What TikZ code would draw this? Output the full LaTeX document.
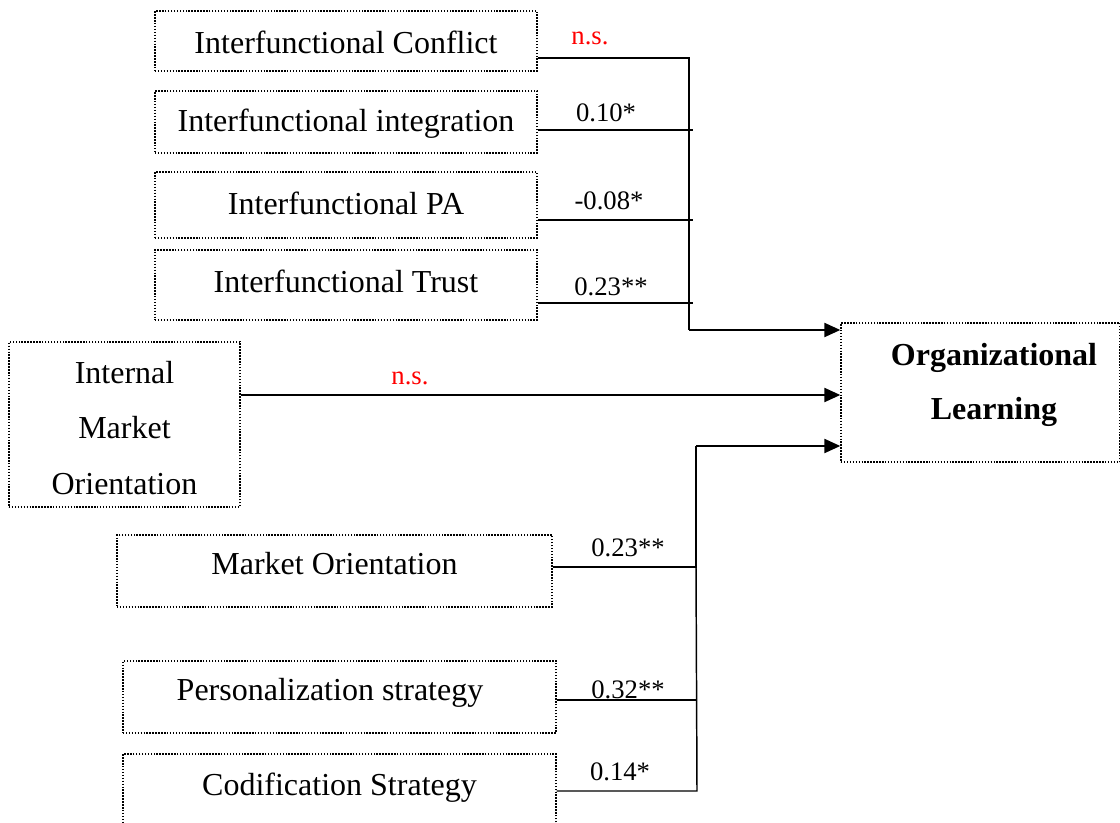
\documentclass[tikz,border=0pt]{standalone}
\usepackage{fontspec}
\setmainfont{Liberation Serif}
\usetikzlibrary{arrows.meta}
\begin{document}
\begin{tikzpicture}[x=0.75pt,y=-0.75pt,
  box/.style={draw, line width=1pt, dash pattern=on 1.1pt off 1.1pt, rectangle, inner sep=0pt},
  boxtext/.style={font=\fontsize{24}{41.6}\selectfont, inner sep=0pt, align=center},
  coef/.style={font=\fontsize{20}{24}\selectfont, inner sep=0pt},
  ns/.style={coef, text=red},
  thick path/.style={line width=1.6pt},
  thin path/.style={line width=1.1pt},
  arr/.style={thick path, -{Triangle[length=12pt,width=10.5pt]}}]
\useasboundingbox (0,0) rectangle (1120,823);
\clip (0,0) rectangle (1120,823);

% predictor and outcome boxes
\node[box, minimum width=382*0.75pt, minimum height=60*0.75pt] (conf) at (346,41) {};
\node[box, minimum width=382*0.75pt, minimum height=62*0.75pt] (integ) at (346,122) {};
\node[box, minimum width=382*0.75pt, minimum height=66*0.75pt] (pa) at (346,205) {};
\node[box, minimum width=382*0.75pt, minimum height=70*0.75pt] (trust) at (346,285) {};
\node[box, minimum width=231*0.75pt, minimum height=165*0.75pt] (imo) at (124.5,424.5) {};
\node[box, minimum width=279*0.75pt, minimum height=139*0.75pt] (ol) at (980.5,392.5) {};
\node[box, minimum width=435*0.75pt, minimum height=72*0.75pt] (mo) at (334.5,571) {};
\node[box, minimum width=433*0.75pt, minimum height=72*0.75pt] (pers) at (339.5,697) {};
\node[box, minimum width=433*0.75pt, minimum height=90*0.75pt] (cod) at (339.5,799) {};

% box texts
\node[boxtext] (tconf) at (346,42) {Interfunctional Conflict};
\node[boxtext] (tinteg) at (346,124) {Interfunctional integration};
\node[boxtext] (tpa) at (346,203) {Interfunctional PA};
\node[boxtext] (ttrust) at (346,281) {Interfunctional Trust};
\node[boxtext] (timo) at (124.5,428) {Internal\\Market\\Orientation};
\node[boxtext, font=\fontsize{24}{40.5}\bfseries\selectfont] (tol) at (994,384.5) {Organizational\\Learning};
\node[boxtext] (tmo) at (334.5,564) {Market Orientation};
\node[boxtext] (tpers) at (330,693) {Personalization strategy};
\node[boxtext] (tcod) at (339.5,788) {Codification Strategy};

% junction points
\coordinate (j1) at (689,58);
\coordinate (j2) at (689,330);
\coordinate (k1) at (696,446);
\coordinate (k2) at (696,567);
\coordinate (k3) at (697,791);

% upper block of paths
\draw[thick path] (conf.east |- j1) -- (j1) -- (j2);
\draw[arr] (j2) -- (ol.west |- j2);
\draw[thin path] (integ.east |- 0,130) -- (693,130);
\draw[thin path] (pa.east |- 0,220) -- (693,220);
\draw[thin path] (trust.east |- 0,303) -- (693,303);

% internal market orientation
\draw[arr] (imo.east |- 0,395) -- (ol.west |- 0,395);

% lower block of paths
\draw[thick path] (mo.east |- k2) -- (k2) -- (k1);
\draw[arr] (k1) -- (ol.west |- k1);
\draw[thin path] (k2) -- (k3) -- (cod.east |- k3);
\draw[thin path] (pers.east |- 0,700) -- (697,700);

% coefficients
\node[ns] (l1) at (590,38) {n.s.};
\node[coef] (l2) at (606,113) {0.10*};
\node[coef] (l3) at (609,201) {-0.08*};
\node[coef] (l4) at (611,287) {0.23**};
\node[ns] (l5) at (410,378) {n.s.};
\node[coef] (l6) at (628,548) {0.23**};
\node[coef] (l7) at (628,690) {0.32**};
\node[coef] (l8) at (620,772) {0.14*};
\end{tikzpicture}
\end{document}
